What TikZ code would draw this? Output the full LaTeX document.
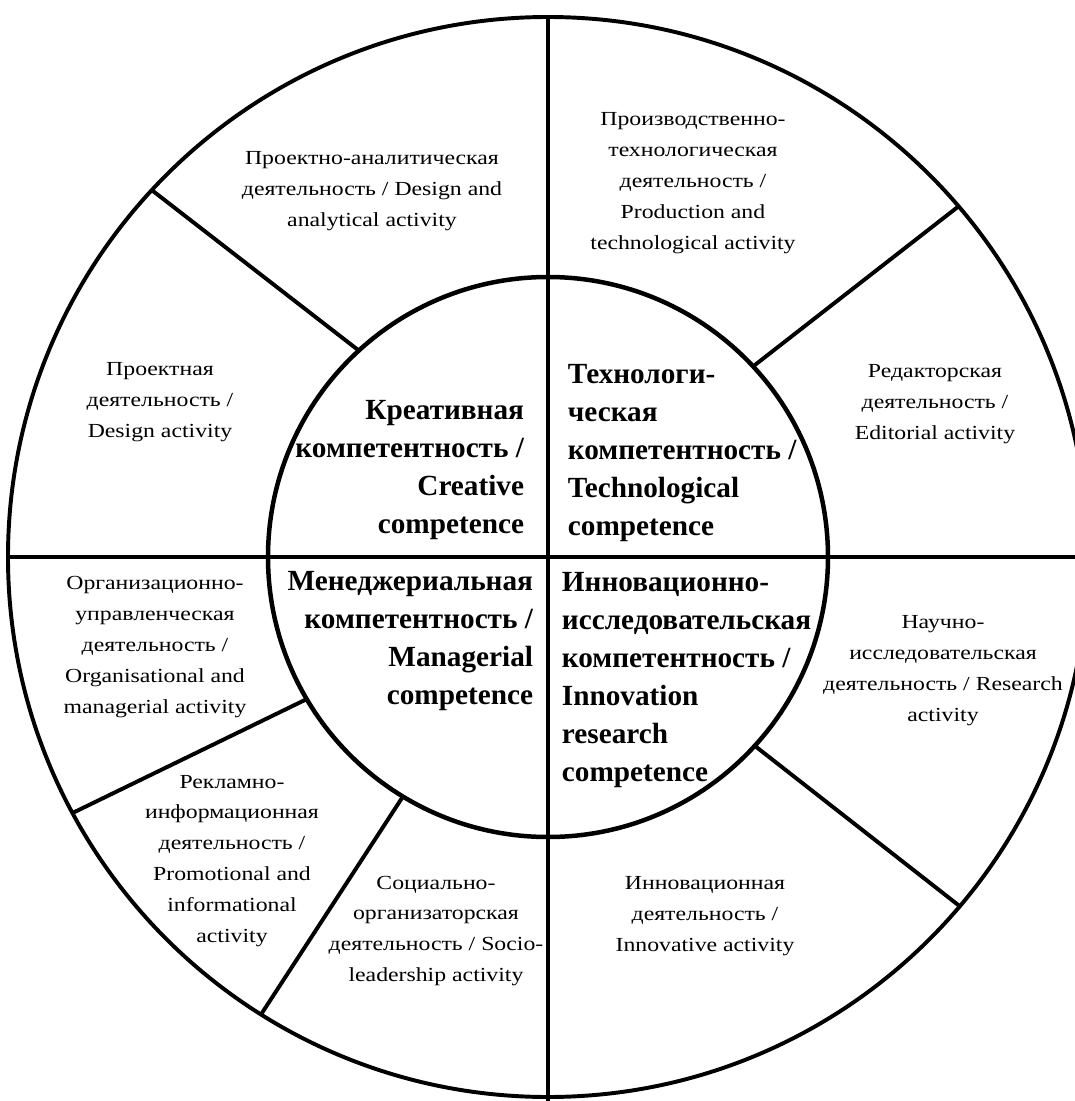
\documentclass[tikz,border=0pt]{standalone}
\usepackage{fontspec}
\setmainfont{Liberation Serif}
\newfontfamily\widefont[FakeStretch=1.19]{Liberation Serif}
\usetikzlibrary{calc,positioning}
\tikzstyle{competence wheel}=[
    line width=2.8pt,
    every node/.style={
        align=center,
        inner sep=0pt,
    },
]
\tikzstyle{activity}=[font=\widefont\fontsize{14.2}{22}\selectfont]
\tikzstyle{competence}=[font=\fontsize{20.8}{27}\selectfont\bfseries]
\newcommand{\outerR}{13.5}
\newcommand{\innerR}{7}

\begin{document}
\begin{tikzpicture}[competence wheel]
    \useasboundingbox (-13.7,-13.6) rectangle (13.175,13.925);

    % rings and axes
    \draw (0,0) circle (\outerR);
    \draw[line width=3.2pt, fill=white] (0,0) circle (\innerR);
    \draw (0,\outerR) -- (0,-13.6);
    \draw (-\outerR,0) -- (13.175,0);

    % spokes of the outer ring
    \draw (132.5:\innerR) -- (137.2:\outerR);
    \draw (42.9:\innerR) -- (40.5:\outerR);
    \draw (-42.4:\innerR) -- (-40.3:\outerR);
    \draw (238.8:\innerR) -- (237.9:\outerR);
    \draw (210.5:\innerR) -- (208.3:\outerR);

    % competences
    \node[competence, align=right, anchor=east] (creative) at (-0.55,2.175)
        {Креативная\\компетентность /\\Creative\\competence};
    \node[competence, align=left, anchor=west] (techno) at (0.45,2.6)
        {Технологи-\\ческая\\компетентность /\\Technological\\competence};
    \node[competence, align=right, anchor=east] (manager) at (-0.325,-2.1)
        {Менеджериальная\\компетентность /\\Managerial\\competence};
    \node[competence, align=left, anchor=west] (innores) at (0.3,-3.075)
        {Инновационно-\\исследовательская\\компетентность /\\Innovation\\research\\competence};

    % activities
    \node[activity] (designan) at (-4.4,9.15)
        {Проектно-аналитическая\\деятельность / Design and\\analytical activity};
    \node[activity] (product) at (3.625,9.35)
        {Производственно-\\технологическая\\деятельность /\\Production and\\technological activity};
    \node[activity] (design) at (-9.7,3.875)
        {Проектная\\деятельность /\\Design activity};
    \node[activity] (editor) at (9.675,3.825)
        {Редакторская\\деятельность /\\Editorial activity};
    \node[activity] (organis) at (-9.825,-2.25)
        {Организационно-\\управленческая\\деятельность /\\Organisational and\\managerial activity};
    \node[activity] (research) at (9.875,-2.85)
        {Научно-\\исследовательская\\деятельность / Research\\activity};
    \node[activity] (promo) at (-7.9,-7.6)
        {Рекламно-\\информационная\\деятельность /\\Promotional and\\informational\\activity};
    \node[activity] (socio) at (-2.8,-9.35)
        {Социально-\\организаторская\\деятельность / Socio-\\leadership activity};
    \node[activity] (innov) at (3.925,-8.975)
        {Инновационная\\деятельность /\\Innovative activity};
\end{tikzpicture}
\end{document}
